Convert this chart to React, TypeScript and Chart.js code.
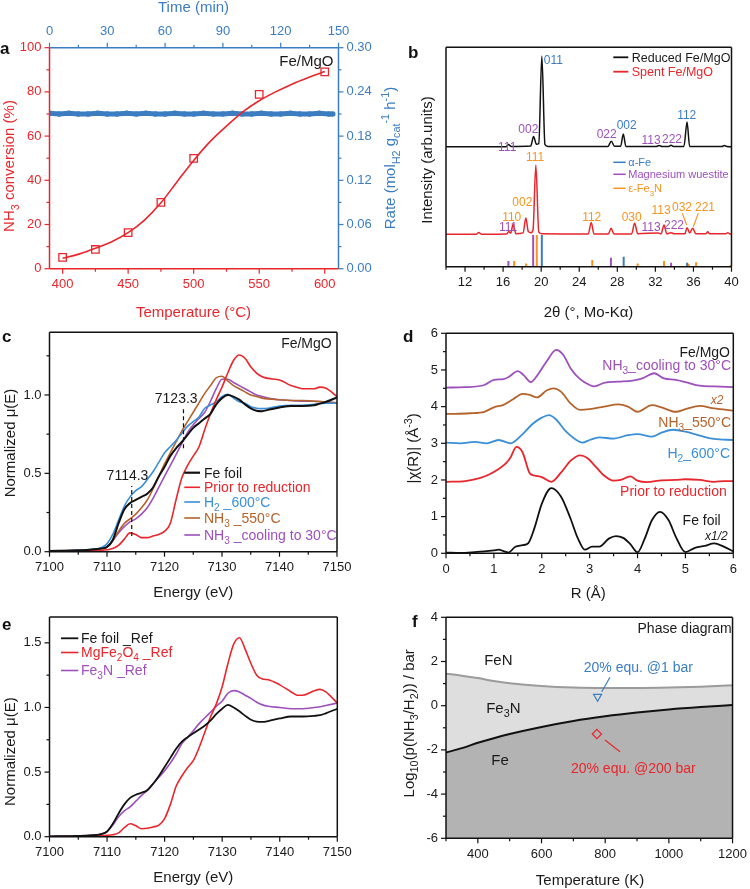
import React, { useEffect, useRef } from 'react';
import { Chart, registerables } from 'chart.js';

Chart.register(...registerables);

const FAMILY = "'Liberation Sans', Arial, Helvetica, sans-serif";
Chart.defaults.font.family = FAMILY;
const PAGE_W = 750;
const PAGE_H = 889;

const RED = '#e8262c';
const BLUE = '#3b7dc0';
const LBLUE = '#3a8fd6';
const BLACK = '#111111';
const PURPLE = '#9d50bb';
const BROWN = '#b5632c';
const ORANGE = '#f7931e';
const TXT = '#1a1a1a';

// ---------------- Panel a data ----------------
const A_TEMP = [400, 425, 450, 475, 500, 550, 600];
const A_CONV = [5.1, 8.7, 16.3, 30, 49.9, 78.9, 89.1];
const A_FIT_T = [400, 412.5, 425, 437.5, 450, 462.5, 475, 487.5, 500, 512.5, 525, 537.5, 550, 562.5, 575, 587.5, 600];
const A_FIT_V = [4.7, 6.6, 9.2, 12.2, 16.3, 22, 29.8, 39.5, 49, 57.5, 64.5, 71, 76, 80, 83.5, 86.5, 89.2];
const A_TIME = [0, 5, 10, 15, 20, 25, 30, 35, 40, 45, 50, 55, 60, 65, 70, 75, 80, 85, 90, 95, 100, 105, 110, 115, 120, 125, 130, 135, 140, 145, 147];
const A_RATE = [0.211, 0.210, 0.211, 0.210, 0.210, 0.211, 0.210, 0.210, 0.211, 0.210, 0.211, 0.210, 0.210, 0.211, 0.210, 0.210, 0.211, 0.210, 0.210, 0.211, 0.210, 0.210, 0.211, 0.210, 0.210, 0.211, 0.210, 0.210, 0.211, 0.210, 0.210];
const A_X_TICKS = [400, 450, 500, 550, 600];
const A_X_MINOR = [425, 475, 525, 575];
const A_Y_TICKS = [0, 20, 40, 60, 80, 100];
const A_Y_MINOR = [10, 30, 50, 70, 90];
const A_TOP_TICKS = [0, 30, 60, 90, 120, 150];
const A_TOP_MINOR = [15, 45, 75, 105, 135];
const A_R_TICKS = [0, 0.06, 0.12, 0.18, 0.24, 0.3];
const A_R_MINOR = [0.03, 0.09, 0.15, 0.21, 0.27];

// ---------------- Panel b data ----------------
const B_BLACK_X = [10, 16.3, 16.56, 16.85, 18.9, 19.2, 19.5, 19.75, 20.07, 20.4, 20.7, 27.0, 27.37, 27.7, 28.35, 28.63, 28.9, 32.1, 32.4, 32.7, 33.4, 33.65, 33.9, 35.0, 35.33, 35.6, 39.0, 39.25, 39.5, 40];
const B_BLACK_Y = [54.7, 54.7, 55.7, 54.8, 55.0, 59.3, 55.8, 56.2, 96, 55.6, 54.8, 54.8, 57.2, 54.9, 54.9, 60.5, 54.8, 54.8, 55.2, 54.8, 54.8, 55.4, 54.8, 54.8, 65.9, 54.8, 54.8, 55.2, 54.8, 54.7];
const B_RED_X = [10, 13.2, 13.45, 13.7, 16.35, 16.6, 16.8, 17.05, 17.35, 18.1, 18.39, 18.65, 18.95, 19.15, 19.44, 19.75, 20.1, 24.95, 25.26, 25.55, 27.05, 27.35, 27.65, 29.5, 29.82, 30.15, 32.3, 32.6, 32.91, 33.2, 33.65, 34.0, 35.1, 35.33, 35.6, 35.93, 36.25, 37.3, 37.5, 37.7, 39.4, 39.6, 39.8, 40];
const B_RED_Y = [14.8, 14.8, 15.6, 14.8, 14.9, 16.0, 15.3, 19.3, 15.0, 15.4, 22.2, 16.0, 15.5, 17.0, 46.4, 15.8, 15.0, 14.9, 20.2, 14.9, 14.9, 17.5, 14.9, 14.9, 19.8, 15.0, 15.4, 15.0, 19.0, 15.0, 15.5, 15.0, 15.0, 17.8, 15.4, 17.5, 15.0, 15.0, 15.9, 15.0, 15.0, 15.5, 15.0, 14.9];
const B_FE_POS = [20.07, 28.67, 35.33];
const B_FE_H = [14.4, 4.5, 1.8];
const B_MW_POS = [16.56, 19.16, 27.33, 33.65];
const B_MW_H = [2.6, 14.4, 4.1, 1.8];
const B_N_POS = [17.16, 18.42, 19.54, 25.37, 30.14, 32.91, 35.5, 36.28, 39.9];
const B_N_H = [2.6, 1.5, 14.4, 3.0, 1.5, 2.6, 1.4, 2.0, 0.8];
const B_X_TICKS = [12, 16, 20, 24, 28, 32, 36, 40];
const B_X_MINOR = [10, 14, 18, 22, 26, 30, 34, 38];

// ---------------- Panels c / e data (XANES) ----------------
const EN = [7100, 7104, 7107, 7109, 7110, 7111, 7112, 7113, 7114, 7115, 7116, 7117, 7118, 7119, 7120, 7121, 7122, 7123, 7124, 7125, 7126, 7127, 7128, 7129, 7130, 7131, 7132, 7133, 7134, 7135, 7136, 7137, 7138, 7140, 7142, 7143, 7144, 7146, 7147, 7148, 7150];
const C_FOIL = [0.005, 0.008, 0.013, 0.02, 0.03, 0.075, 0.18, 0.27, 0.31, 0.33, 0.35, 0.37, 0.41, 0.48, 0.54, 0.61, 0.66, 0.70, 0.745, 0.79, 0.82, 0.85, 0.88, 0.94, 0.98, 1.0, 0.99, 0.97, 0.94, 0.915, 0.90, 0.897, 0.905, 0.92, 0.93, 0.93, 0.93, 0.935, 0.945, 0.955, 0.985];
const C_PRIOR = [0.0, 0.002, 0.005, 0.008, 0.012, 0.02, 0.04, 0.08, 0.12, 0.11, 0.09, 0.09, 0.10, 0.11, 0.13, 0.18, 0.33, 0.47, 0.55, 0.61, 0.67, 0.78, 0.88, 0.97, 1.05, 1.14, 1.22, 1.255, 1.234, 1.18, 1.14, 1.117, 1.106, 1.096, 1.06, 1.05, 1.04, 1.04, 1.05, 1.045, 0.99];
const C_H2 = [0.005, 0.008, 0.014, 0.025, 0.05, 0.11, 0.2, 0.29, 0.35, 0.39, 0.415, 0.46, 0.51, 0.57, 0.63, 0.67, 0.71, 0.755, 0.80, 0.83, 0.86, 0.915, 0.936, 0.957, 0.99, 1.005, 0.98, 0.957, 0.947, 0.925, 0.915, 0.913, 0.915, 0.93, 0.934, 0.934, 0.934, 0.94, 0.945, 0.947, 0.947];
const C_NH3_550 = [0.005, 0.008, 0.012, 0.02, 0.03, 0.07, 0.13, 0.18, 0.21, 0.24, 0.28, 0.33, 0.40, 0.48, 0.56, 0.63, 0.70, 0.77, 0.83, 0.89, 0.95, 1.01, 1.06, 1.11, 1.12, 1.09, 1.06, 1.04, 1.02, 1.0, 0.99, 0.98, 0.975, 0.97, 0.965, 0.965, 0.965, 0.96, 0.958, 0.955, 0.95];
const C_NH3_COOL = [0.005, 0.008, 0.012, 0.02, 0.03, 0.07, 0.12, 0.16, 0.19, 0.21, 0.24, 0.28, 0.34, 0.41, 0.48, 0.55, 0.62, 0.69, 0.76, 0.81, 0.85, 0.89, 0.96, 1.04, 1.1, 1.1, 1.08, 1.06, 1.04, 1.02, 1.0, 0.99, 0.98, 0.97, 0.965, 0.962, 0.96, 0.96, 0.958, 0.955, 0.95];
const E_FOIL = [0.003, 0.005, 0.01, 0.02, 0.04, 0.10, 0.18, 0.25, 0.30, 0.325, 0.34, 0.36, 0.41, 0.47, 0.54, 0.61, 0.68, 0.735, 0.77, 0.80, 0.83, 0.86, 0.90, 0.95, 0.99, 1.02, 1.0, 0.97, 0.935, 0.905, 0.89, 0.888, 0.895, 0.915, 0.93, 0.93, 0.93, 0.935, 0.94, 0.955, 0.99];
const E_MGFE2O4 = [0.0, 0.002, 0.004, 0.007, 0.01, 0.015, 0.03, 0.07, 0.10, 0.085, 0.062, 0.065, 0.075, 0.09, 0.14, 0.25, 0.39, 0.47, 0.535, 0.59, 0.69, 0.81, 0.93, 1.03, 1.16, 1.34, 1.49, 1.54, 1.45, 1.34, 1.25, 1.22, 1.215, 1.175, 1.12, 1.095, 1.095, 1.13, 1.14, 1.12, 1.034];
const E_FE3N = [0.003, 0.005, 0.01, 0.02, 0.04, 0.09, 0.155, 0.2, 0.23, 0.275, 0.32, 0.36, 0.41, 0.46, 0.51, 0.57, 0.64, 0.72, 0.77, 0.82, 0.875, 0.92, 0.965, 1.01, 1.05, 1.11, 1.13, 1.12, 1.095, 1.07, 1.04, 1.02, 1.01, 1.0, 0.99, 0.99, 0.99, 1.0, 1.005, 1.015, 1.034];
const EN_TICKS = [7100, 7110, 7120, 7130, 7140, 7150];
const EN_MINOR = [7105, 7115, 7125, 7135, 7145];
const C_Y_TICKS = [0, 0.5, 1.0];
const C_Y_MINOR = [0.25, 0.75, 1.25];
const E_Y_TICKS = [0, 0.5, 1.0, 1.5];
const E_Y_MINOR = [0.25, 0.75, 1.25];

// ---------------- Panel d data (EXAFS) ----------------
const D_FOIL_R = [0, 0.3, 0.6, 0.8, 1.0, 1.1, 1.2, 1.3, 1.45, 1.6, 1.72, 1.85, 2.0, 2.2, 2.4, 2.6, 2.75, 2.9, 3.05, 3.2, 3.4, 3.55, 3.7, 3.85, 4.0, 4.15, 4.3, 4.47, 4.65, 4.8, 5.0, 5.2, 5.4, 5.6, 5.8, 6.0];
const D_FOIL = [0.02, 0.01, 0.03, 0.05, 0.08, 0.1, 0.06, 0.02, 0.18, 0.22, 0.28, 0.7, 1.35, 1.78, 1.55, 0.95, 0.42, 0.1, 0.18, 0.18, 0.4, 0.47, 0.42, 0.25, 0.03, 0.4, 0.9, 1.13, 0.9, 0.45, 0.03, 0.15, 0.2, 0.27, 0.18, 0.05];
const D_PRIOR_R = [0, 0.4, 0.7, 0.9, 1.1, 1.25, 1.35, 1.47, 1.6, 1.75, 1.85, 2.0, 2.2, 2.4, 2.6, 2.8, 2.95, 3.1, 3.3, 3.5, 3.65, 3.85, 4.0, 4.2, 4.5, 4.8, 5.0, 5.3, 5.6, 5.8, 6.0];
const D_PRIOR = [1.95, 1.97, 2.05, 2.15, 2.3, 2.45, 2.62, 2.9, 2.75, 2.18, 2.12, 2.08, 1.95, 2.2, 2.52, 2.67, 2.6, 2.4, 2.12, 1.98, 2.0, 2.1, 1.98, 1.94, 1.99, 2.0, 2.02, 2.0, 1.95, 1.97, 1.97];
const D_H2_R = [0, 0.3, 0.6, 0.85, 1.1, 1.35, 1.6, 1.8, 2.0, 2.15, 2.3, 2.5, 2.7, 2.85, 3.0, 3.2, 3.5, 3.8, 4.0, 4.3, 4.5, 4.75, 5.0, 5.3, 5.6, 6.0];
const D_H2 = [3.02, 3.0, 3.04, 3.0, 3.09, 3.0, 3.25, 3.52, 3.7, 3.77, 3.65, 3.33, 3.11, 3.02, 3.09, 3.16, 3.13, 3.22, 3.25, 3.18, 3.29, 3.37, 3.32, 3.21, 3.12, 3.09];
const D_N550_R = [0, 0.5, 0.8, 1.0, 1.2, 1.4, 1.6, 1.75, 1.9, 2.1, 2.25, 2.4, 2.6, 2.8, 3.0, 3.3, 3.6, 3.8, 4.0, 4.3, 4.5, 4.8, 5.0, 5.3, 5.6, 6.0];
const D_N550 = [3.8, 3.82, 3.86, 3.98, 4.05, 4.2, 4.35, 4.32, 4.25, 4.44, 4.5, 4.41, 4.09, 3.91, 3.93, 4.0, 4.06, 4.0, 3.86, 4.04, 3.98, 3.86, 3.93, 4.02, 3.95, 3.89];
const D_COOL_R = [0, 0.4, 0.8, 1.0, 1.2, 1.3, 1.5, 1.62, 1.77, 1.9, 2.1, 2.3, 2.45, 2.6, 2.8, 3.0, 3.1, 3.3, 3.6, 3.9, 4.1, 4.35, 4.55, 4.8, 5.0, 5.3, 5.6, 6.0];
const D_COOL = [4.52, 4.53, 4.59, 4.73, 4.75, 4.8, 4.97, 4.86, 4.67, 4.84, 5.23, 5.55, 5.41, 5.05, 4.75, 4.59, 4.55, 4.65, 4.68, 4.71, 4.77, 4.91, 4.77, 4.73, 4.67, 4.57, 4.55, 4.53];
const D_TICKS = [0, 1, 2, 3, 4, 5, 6];
const D_MINOR = [0.5, 1.5, 2.5, 3.5, 4.5, 5.5];

// ---------------- Panel f data (phase diagram) ----------------
const F_T = [300, 350, 400, 450, 500, 600, 700, 800, 900, 1000, 1100, 1200];
const F_UPPER = [1.45, 1.36, 1.25, 1.12, 1.02, 0.89, 0.82, 0.80, 0.80, 0.82, 0.86, 0.92];
const F_LOWER = [-2.12, -1.92, -1.68, -1.47, -1.28, -0.96, -0.69, -0.48, -0.31, -0.17, -0.06, 0.03];
const F_EQ1_T = [776];
const F_EQ1_V = [0.41];
const F_EQ200_T = [774];
const F_EQ200_V = [-1.28];
const F_X_TICKS = [400, 600, 800, 1000, 1200];
const F_X_MINOR = [300, 500, 700, 900, 1100];
const F_Y_TICKS = [-6, -4, -2, 0, 2, 4];
const F_Y_MINOR = [-5, -3, -1, 1, 3];

// ---------------- helpers ----------------
const pts = (xs: number[], ys: number[]) => xs.map((x, i) => ({ x, y: ys[i] }));
const line = (xs: number[], ys: number[], color: string, width = 1.6, extra: any = {}) => ({
  data: pts(xs, ys),
  borderColor: color,
  backgroundColor: color,
  borderWidth: width,
  pointRadius: 0,
  fill: false,
  cubicInterpolationMode: 'monotone',
  ...extra,
});
const sticks = (pos: number[], h: number[], color: string) => ({
  data: pos.flatMap((p, i) => [{ x: p, y: 0 }, { x: p, y: h[i] }, { x: p, y: null }]),
  borderColor: color,
  borderWidth: 2,
  pointRadius: 0,
  spanGaps: false,
  fill: false,
});

type Seg = { t: string; m: number };
function parseRich(s: string): Seg[] {
  const out: Seg[] = [];
  let buf = '';
  let i = 0;
  while (i < s.length) {
    const c = s[i];
    if ((c === '_' || c === '^') && s[i + 1] === '{') {
      if (buf) { out.push({ t: buf, m: 0 }); buf = ''; }
      const end = s.indexOf('}', i + 2);
      out.push({ t: s.slice(i + 2, end), m: c === '_' ? 1 : 2 });
      i = end + 1;
    } else {
      buf += c;
      i++;
    }
  }
  if (buf) out.push({ t: buf, m: 0 });
  return out;
}

type Txt = { s: string; x: number; y: number; size?: number; color?: string; align?: string; bold?: boolean; italic?: boolean; rot?: boolean };
function drawRich(ctx: CanvasRenderingContext2D, t: Txt) {
  const size = t.size ?? 14;
  const segs = parseRich(t.s);
  const fontOf = (sz: number) => `${t.italic ? 'italic ' : ''}${t.bold ? 'bold ' : ''}${sz}px ${FAMILY}`;
  ctx.save();
  ctx.translate(t.x, t.y);
  if (t.rot) ctx.rotate(-Math.PI / 2);
  let total = 0;
  const ws = segs.map((sg) => {
    ctx.font = fontOf(sg.m ? size * 0.72 : size);
    const w = ctx.measureText(sg.t).width;
    total += w;
    return w;
  });
  let x = t.align === 'left' ? 0 : t.align === 'right' ? -total : -total / 2;
  const base = size * 0.36;
  ctx.fillStyle = t.color ?? TXT;
  ctx.textAlign = 'left';
  ctx.textBaseline = 'alphabetic';
  segs.forEach((sg, i) => {
    ctx.font = fontOf(sg.m ? size * 0.72 : size);
    const dy = sg.m === 1 ? size * 0.3 : sg.m === 2 ? -size * 0.42 : 0;
    ctx.fillText(sg.t, x, base + dy);
    x += ws[i];
  });
  ctx.restore();
}

type Axis = { id: string; pos: string; min: number; max: number; major: number[]; minor: number[]; color: string; fmt?: (v: number) => string; labels?: boolean };
type Panel = {
  area: { L: number; T: number; R: number; B: number };
  axes: Axis[];
  frame: { left: string; right: string; top: string; bottom: string };
  datasets: any[];
  texts: Txt[];
  segs?: any[];
  vlines?: { x: number; y1: number; y2: number }[];
};

function decorate(chart: any, p: Panel) {
  const ctx: CanvasRenderingContext2D = chart.ctx;
  const ca = chart.chartArea;
  ctx.save();
  p.axes.forEach((a) => {
    const sc = chart.scales[a.id];
    ctx.strokeStyle = a.color;
    ctx.lineWidth = 1.2;
    const tick = (v: number, len: number) => {
      const px = sc.getPixelForValue(v);
      ctx.beginPath();
      if (a.pos === 'bottom') { ctx.moveTo(px, ca.bottom); ctx.lineTo(px, ca.bottom + len); }
      else if (a.pos === 'top') { ctx.moveTo(px, ca.top); ctx.lineTo(px, ca.top - len); }
      else if (a.pos === 'left') { ctx.moveTo(ca.left, px); ctx.lineTo(ca.left - len, px); }
      else { ctx.moveTo(ca.right, px); ctx.lineTo(ca.right + len, px); }
      ctx.stroke();
    };
    a.major.forEach((v) => tick(v, 5));
    a.minor.forEach((v) => tick(v, 3));
  });
  const side = (x1: number, y1: number, x2: number, y2: number, c: string) => {
    ctx.strokeStyle = c;
    ctx.lineWidth = 1.5;
    ctx.beginPath();
    ctx.moveTo(x1, y1);
    ctx.lineTo(x2, y2);
    ctx.stroke();
  };
  side(ca.left, ca.top, ca.right, ca.top, p.frame.top);
  side(ca.right, ca.top, ca.right, ca.bottom, p.frame.right);
  side(ca.left, ca.bottom, ca.right, ca.bottom, p.frame.bottom);
  side(ca.left, ca.top, ca.left, ca.bottom, p.frame.left);
  (p.vlines || []).forEach((v) => {
    const xs = chart.scales.x;
    const ys = chart.scales.y;
    ctx.save();
    ctx.setLineDash([4, 3]);
    ctx.strokeStyle = BLACK;
    ctx.lineWidth = 1.2;
    ctx.beginPath();
    ctx.moveTo(xs.getPixelForValue(v.x), ys.getPixelForValue(v.y1));
    ctx.lineTo(xs.getPixelForValue(v.x), ys.getPixelForValue(v.y2));
    ctx.stroke();
    ctx.restore();
  });
  (p.segs || []).forEach((s) => {
    ctx.strokeStyle = s[4];
    ctx.lineWidth = s[5] ?? 1.3;
    ctx.beginPath();
    ctx.moveTo(s[0], s[1]);
    ctx.lineTo(s[2], s[3]);
    ctx.stroke();
  });
  p.texts.forEach((t) => drawRich(ctx, t));
  ctx.restore();
}

function makeConfig(p: Panel): any {
  const XH = 30;
  const YW = 46;
  let padL = p.area.L;
  let padR = PAGE_W - p.area.R;
  let padT = p.area.T;
  let padB = PAGE_H - p.area.B;
  const scales: any = {};
  p.axes.forEach((a) => {
    const horiz = a.pos === 'top' || a.pos === 'bottom';
    const sz = horiz ? XH : YW;
    if (a.pos === 'left') padL -= sz;
    else if (a.pos === 'right') padR -= sz;
    else if (a.pos === 'top') padT -= sz;
    else padB -= sz;
    scales[a.id] = {
      type: 'linear',
      position: a.pos,
      min: a.min,
      max: a.max,
      bounds: 'data',
      afterBuildTicks: (s: any) => { s.ticks = a.major.map((v) => ({ value: v })); },
      afterFit: (s: any) => { if (horiz) s.height = sz; else s.width = sz; },
      grid: { display: true, drawOnChartArea: false, drawTicks: true, tickLength: 5, color: 'rgba(0,0,0,0)' },
      border: { display: false },
      title: { display: false },
      ticks: {
        display: a.labels !== false,
        color: a.color === BLACK ? TXT : a.color,
        font: { size: 13, family: FAMILY },
        padding: 3,
        autoSkip: false,
        maxRotation: 0,
        minRotation: 0,
        callback: (v: any) => (a.fmt ? a.fmt(Number(v)) : String(Number(v))),
      },
    };
  });
  return {
    type: 'line',
    data: { datasets: p.datasets },
    options: {
      responsive: false,
      maintainAspectRatio: false,
      animation: false,
      devicePixelRatio: 1,
      events: [],
      layout: { padding: { left: padL, right: padR, top: padT, bottom: padB } },
      plugins: {
        legend: { display: false },
        tooltip: { enabled: false },
        title: { display: false },
        filler: { drawTime: 'beforeDatasetsDraw' },
      },
      scales,
    },
    plugins: [{ id: 'deco', afterDraw: (chart: any) => decorate(chart, p) }],
  };
}

// ---------------- panels ----------------
const FRAME_BLACK = { left: BLACK, right: BLACK, top: BLACK, bottom: BLACK };

const PANEL_A: Panel = {
  area: { L: 49.5, T: 47.7, R: 338.5, B: 268.7 },
  axes: [
    { id: 'x', pos: 'bottom', min: 390, max: 610.5, major: A_X_TICKS, minor: A_X_MINOR, color: RED },
    { id: 'y', pos: 'left', min: 0, max: 100, major: A_Y_TICKS, minor: A_Y_MINOR, color: RED },
    { id: 'x2', pos: 'top', min: 0, max: 150, major: A_TOP_TICKS, minor: A_TOP_MINOR, color: BLUE },
    { id: 'y2', pos: 'right', min: 0, max: 0.3, major: A_R_TICKS, minor: A_R_MINOR, color: BLUE, fmt: (v) => v.toFixed(2) },
  ],
  frame: { left: RED, bottom: RED, top: BLUE, right: BLUE },
  datasets: [
    { data: pts(A_TEMP, A_CONV), showLine: false, pointStyle: 'rect', pointRadius: 5.3, pointBorderWidth: 1.3, pointBorderColor: RED, pointBackgroundColor: 'rgba(255,255,255,0)', borderColor: RED },
    line(A_FIT_T, A_FIT_V, RED, 1.6),
    line(A_TIME, A_RATE, BLUE, 5, { xAxisID: 'x2', yAxisID: 'y2', pointRadius: 2.8, pointBorderWidth: 0, pointBackgroundColor: BLUE, cubicInterpolationMode: 'default' }),
  ],
  texts: [
    { s: 'a', x: 0, y: 48, size: 17, bold: true, align: 'left', color: BLACK },
    { s: 'Fe/MgO', x: 333.5, y: 61, size: 15, align: 'right' },
    { s: 'Time (min)', x: 193.5, y: 7, size: 15, color: BLUE },
    { s: 'Temperature (°C)', x: 193.5, y: 312, size: 15, color: RED },
    { s: 'NH_{3} conversion (%)', x: 9, y: 166, size: 15, color: RED, rot: true },
    { s: 'Rate (mol_{H2} g_{cat}^{-1} h^{-1})', x: 390, y: 158, size: 15, color: BLUE, rot: true },
  ],
};

const PANEL_B: Panel = {
  area: { L: 446, T: 47.3, R: 731.5, B: 266.7 },
  axes: [
    { id: 'x', pos: 'bottom', min: 10, max: 40, major: B_X_TICKS, minor: B_X_MINOR, color: BLACK },
    { id: 'y', pos: 'left', min: 0, max: 100, major: [], minor: [], color: BLACK, labels: false },
  ],
  frame: FRAME_BLACK,
  datasets: [
    line(B_BLACK_X, B_BLACK_Y, BLACK, 1.5),
    line(B_RED_X, B_RED_Y, RED, 1.5),
    sticks(B_FE_POS, B_FE_H, BLUE),
    sticks(B_MW_POS, B_MW_H, PURPLE),
    sticks(B_N_POS, B_N_H, ORANGE),
  ],
  segs: [
    [613.3, 57.3, 628.3, 57.3, BLACK, 1.8],
    [613.3, 71.7, 628.3, 71.7, RED, 1.8],
    [613.3, 162.3, 625.7, 162.3, BLUE, 1.5],
    [613.3, 174.3, 625.7, 174.3, PURPLE, 1.5],
    [613.3, 188.3, 625.7, 188.3, ORANGE, 1.5],
    [682.3, 213.3, 686.7, 225, ORANGE, 1.1],
    [698.3, 213.3, 693.3, 226.7, ORANGE, 1.1],
  ],
  texts: [
    { s: 'b', x: 408, y: 52, size: 17, bold: true, align: 'left', color: BLACK },
    { s: 'Intensity (arb.units)', x: 426.5, y: 160, size: 15, rot: true },
    { s: '2θ (°, Mo-Kα)', x: 588.5, y: 311.7, size: 15 },
    { s: 'Reduced Fe/MgO', x: 631.7, y: 57.3, size: 12.5, align: 'left' },
    { s: 'Spent Fe/MgO', x: 631.7, y: 71.7, size: 12.5, align: 'left', color: RED },
    { s: 'α-Fe', x: 628.3, y: 162.3, size: 11, align: 'left', color: BLUE },
    { s: 'Magnesium wuestite', x: 628.3, y: 174.3, size: 11, align: 'left', color: PURPLE },
    { s: 'ε-Fe_{3}N', x: 628.3, y: 188.3, size: 11, align: 'left', color: ORANGE },
    { s: '111', x: 507.2, y: 146.7, size: 12, color: PURPLE },
    { s: '002', x: 528.3, y: 128.3, size: 12, color: PURPLE },
    { s: '011', x: 553.3, y: 60, size: 12, color: BLUE },
    { s: '022', x: 606.7, y: 133.3, size: 12, color: PURPLE },
    { s: '002', x: 626.7, y: 125, size: 12, color: BLUE },
    { s: '113', x: 651, y: 140, size: 12, color: PURPLE },
    { s: '222', x: 672, y: 138.3, size: 12, color: PURPLE },
    { s: '112', x: 686.7, y: 115, size: 12, color: BLUE },
    { s: '111', x: 535, y: 156.7, size: 12, color: ORANGE },
    { s: '111', x: 508, y: 226.7, size: 12, color: PURPLE },
    { s: '110', x: 511.7, y: 216.7, size: 12, color: ORANGE },
    { s: '002', x: 522.3, y: 201.7, size: 12, color: ORANGE },
    { s: '112', x: 591.7, y: 216.7, size: 12, color: ORANGE },
    { s: '030', x: 631.7, y: 216.7, size: 12, color: ORANGE },
    { s: '113', x: 651, y: 226.7, size: 12, color: PURPLE },
    { s: '222', x: 674, y: 225, size: 12, color: PURPLE },
    { s: '113', x: 661, y: 210, size: 12, color: ORANGE },
    { s: '032', x: 682, y: 206.7, size: 12, color: ORANGE },
    { s: '221', x: 705, y: 206.7, size: 12, color: ORANGE },
  ],
};

const PANEL_C: Panel = {
  area: { L: 49.5, T: 332.3, R: 337, B: 551.7 },
  axes: [
    { id: 'x', pos: 'bottom', min: 7100, max: 7150, major: EN_TICKS, minor: EN_MINOR, color: BLACK },
    { id: 'y', pos: 'left', min: 0, max: 1.4, major: C_Y_TICKS, minor: C_Y_MINOR, color: BLACK, fmt: (v) => v.toFixed(1) },
  ],
  frame: FRAME_BLACK,
  datasets: [
    line(EN, C_FOIL, BLACK, 2),
    line(EN, C_PRIOR, RED, 1.6),
    line(EN, C_H2, LBLUE, 1.6),
    line(EN, C_NH3_550, BROWN, 1.6),
    line(EN, C_NH3_COOL, PURPLE, 1.6),
  ],
  vlines: [
    { x: 7114.3, y1: 0.1, y2: 0.42 },
    { x: 7123.3, y1: 0.66, y2: 0.92 },
  ],
  segs: [
    [184.3, 472.7, 200, 472.7, BLACK, 2.2],
    [184.3, 487.3, 200, 487.3, RED, 1.6],
    [184.3, 502, 200, 502, LBLUE, 1.6],
    [184.3, 518, 200, 518, BROWN, 1.6],
    [184.3, 535, 200, 535, PURPLE, 1.6],
  ],
  texts: [
    { s: 'c', x: 2, y: 336, size: 17, bold: true, align: 'left', color: BLACK },
    { s: 'Fe/MgO', x: 331.7, y: 343.3, size: 14, align: 'right' },
    { s: '7114.3', x: 127.5, y: 475, size: 14 },
    { s: '7123.3', x: 176.2, y: 398.3, size: 14 },
    { s: 'Fe foil', x: 204, y: 472.7, size: 14, align: 'left' },
    { s: 'Prior to reduction', x: 204, y: 487.3, size: 14, align: 'left', color: RED },
    { s: 'H_{2} _600°C', x: 204, y: 502, size: 14, align: 'left', color: LBLUE },
    { s: 'NH_{3} _550°C', x: 204, y: 518, size: 14, align: 'left', color: BROWN },
    { s: 'NH_{3} _cooling to 30°C', x: 204, y: 535, size: 14, align: 'left', color: PURPLE },
    { s: 'Normalized μ(E)', x: 9.5, y: 443, size: 15, rot: true },
    { s: 'Energy (eV)', x: 193.3, y: 591.5, size: 15 },
  ],
};

const PANEL_D: Panel = {
  area: { L: 446, T: 333.3, R: 733.3, B: 553.3 },
  axes: [
    { id: 'x', pos: 'bottom', min: 0, max: 6, major: D_TICKS, minor: D_MINOR, color: BLACK },
    { id: 'y', pos: 'left', min: 0, max: 6, major: D_TICKS, minor: D_MINOR, color: BLACK },
  ],
  frame: FRAME_BLACK,
  datasets: [
    line(D_FOIL_R, D_FOIL, BLACK, 1.8),
    line(D_PRIOR_R, D_PRIOR, RED, 1.8),
    line(D_H2_R, D_H2, LBLUE, 1.8),
    line(D_N550_R, D_N550, BROWN, 1.8),
    line(D_COOL_R, D_COOL, PURPLE, 1.8),
  ],
  texts: [
    { s: 'd', x: 403, y: 336, size: 17, bold: true, align: 'left', color: BLACK },
    { s: 'Fe/MgO', x: 730, y: 351.7, size: 14, align: 'right' },
    { s: 'NH_{3}_cooling to 30°C', x: 731, y: 365, size: 14, align: 'right', color: PURPLE },
    { s: 'x2', x: 723.3, y: 399.3, size: 12, align: 'right', italic: true, color: BROWN },
    { s: 'NH_{3}_550°C', x: 731, y: 421.7, size: 14, align: 'right', color: BROWN },
    { s: 'H_{2}_600°C', x: 730, y: 452.7, size: 14, align: 'right', color: LBLUE },
    { s: 'Prior to reduction', x: 726.7, y: 491, size: 14, align: 'right', color: RED },
    { s: 'Fe foil', x: 720.7, y: 520, size: 14, align: 'right' },
    { s: 'x1/2', x: 727.7, y: 536, size: 12, align: 'right', italic: true },
    { s: '|χ(R)| (Å^{-3})', x: 412.7, y: 448.3, size: 15, rot: true },
    { s: 'R (Å)', x: 588.3, y: 592.5, size: 15 },
  ],
};

const PANEL_E: Panel = {
  area: { L: 49.5, T: 617, R: 337.3, B: 836.7 },
  axes: [
    { id: 'x', pos: 'bottom', min: 7100, max: 7150, major: EN_TICKS, minor: EN_MINOR, color: BLACK },
    { id: 'y', pos: 'left', min: 0, max: 1.7, major: E_Y_TICKS, minor: E_Y_MINOR, color: BLACK, fmt: (v) => v.toFixed(1) },
  ],
  frame: FRAME_BLACK,
  datasets: [
    line(EN, E_FOIL, BLACK, 1.8),
    line(EN, E_MGFE2O4, RED, 1.6),
    line(EN, E_FE3N, PURPLE, 1.6),
  ],
  segs: [
    [61, 638.3, 78.3, 638.3, BLACK, 1.8],
    [61, 652.5, 78.3, 652.5, RED, 1.6],
    [61, 670.5, 78.3, 670.5, PURPLE, 1.6],
  ],
  texts: [
    { s: 'e', x: 2, y: 624, size: 17, bold: true, align: 'left', color: BLACK },
    { s: 'Fe foil _Ref', x: 81, y: 638.3, size: 14, align: 'left' },
    { s: 'MgFe_{2}O_{4} _Ref', x: 81, y: 652, size: 14, align: 'left', color: RED },
    { s: 'Fe_{3}N _Ref', x: 81, y: 670, size: 14, align: 'left', color: PURPLE },
    { s: 'Normalized μ(E)', x: 9.5, y: 751.7, size: 15, rot: true },
    { s: 'Energy (eV)', x: 193.3, y: 876.5, size: 15 },
  ],
};

const PANEL_F: Panel = {
  area: { L: 446, T: 617.3, R: 734.5, B: 838.3 },
  axes: [
    { id: 'x', pos: 'bottom', min: 300, max: 1200, major: F_X_TICKS, minor: F_X_MINOR, color: BLACK },
    { id: 'y', pos: 'left', min: -6, max: 4, major: F_Y_TICKS, minor: F_Y_MINOR, color: BLACK },
  ],
  frame: FRAME_BLACK,
  datasets: [
    { data: pts(F_EQ1_T, F_EQ1_V), showLine: false, pointStyle: 'triangle', rotation: 180, pointRadius: 4.6, pointBorderWidth: 1.2, pointBorderColor: BLUE, pointBackgroundColor: 'rgba(0,0,0,0)', borderColor: BLUE },
    { data: pts(F_EQ200_T, F_EQ200_V), showLine: false, pointStyle: 'rectRot', pointRadius: 4.6, pointBorderWidth: 1.2, pointBorderColor: RED, pointBackgroundColor: 'rgba(0,0,0,0)', borderColor: RED },
    line(F_T, F_UPPER, '#9b9b9b', 2, { fill: '+1', backgroundColor: '#dedede' }),
    line(F_T, F_LOWER, BLACK, 2, { fill: 'start', backgroundColor: '#b3b3b3' }),
  ],
  segs: [
    [601.7, 691.7, 610, 677.3, BLUE, 1.2],
    [605, 740, 620, 751.7, RED, 1.2],
  ],
  texts: [
    { s: 'f', x: 412, y: 621, size: 17, bold: true, align: 'left', color: BLACK },
    { s: 'Phase diagram', x: 731.7, y: 628.3, size: 14, align: 'right' },
    { s: 'FeN', x: 498.3, y: 660, size: 15 },
    { s: 'Fe_{3}N', x: 503.3, y: 707.3, size: 15 },
    { s: 'Fe', x: 500, y: 760, size: 15 },
    { s: '20% equ. @1 bar', x: 638.3, y: 667.3, size: 14, color: BLUE },
    { s: '20% equ. @200 bar', x: 633.3, y: 768.3, size: 14, color: RED },
    { s: 'Log_{10}(p(NH_{3}/H_{2})) / bar', x: 408.3, y: 723.3, size: 15, rot: true },
    { s: 'Temperature (K)', x: 590, y: 880, size: 15 },
  ],
};

const PANELS = [PANEL_A, PANEL_B, PANEL_C, PANEL_D, PANEL_E, PANEL_F];

function PanelCanvas({ panel }: { panel: Panel }) {
  const ref = useRef<HTMLCanvasElement>(null);
  useEffect(() => {
    const chart = new Chart(ref.current as HTMLCanvasElement, makeConfig(panel));
    return () => chart.destroy();
  }, [panel]);
  return (
    <canvas
      ref={ref}
      width={PAGE_W}
      height={PAGE_H}
      style={{ position: 'absolute', left: 0, top: 0, width: PAGE_W, height: PAGE_H }}
    />
  );
}

export default function App() {
  return (
    <div style={{ position: 'absolute', left: 0, top: 0, width: PAGE_W, height: PAGE_H, background: '#ffffff', overflow: 'hidden' }}>
      {PANELS.map((p, i) => (
        <PanelCanvas key={i} panel={p} />
      ))}
    </div>
  );
}
